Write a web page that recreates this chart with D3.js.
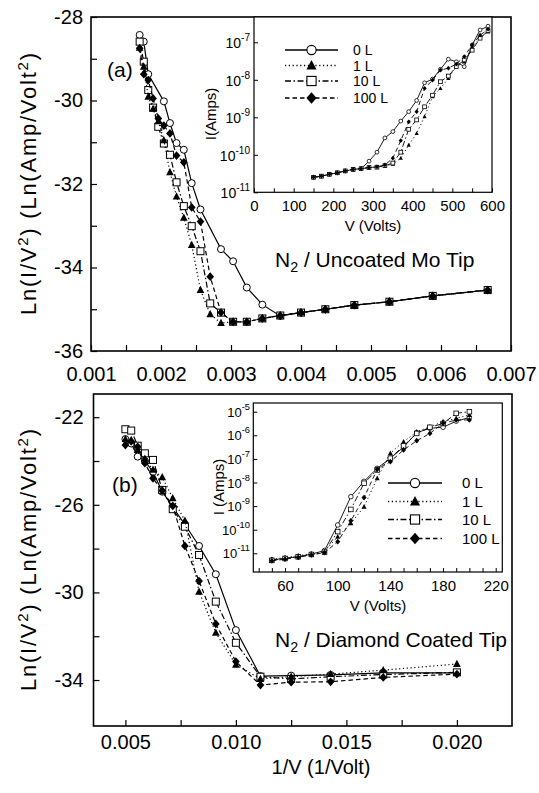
<!DOCTYPE html>
<html><head><meta charset="utf-8">
<script src="https://cdn.jsdelivr.net/npm/d3@7"></script>
<style>
body{margin:0;background:#fff;}
svg{display:block;font-family:"Liberation Sans",Arial,Helvetica,sans-serif;}
</style></head><body>
<svg id="c" width="539" height="793"></svg>
<script>
// ---------------- DATA ----------------
const seriesLabels = ["0 L", "1 L", "10 L", "100 L"];

// Panel (a) main: [1/V (1/Volt), Ln(I/V^2)]
const aMain0L = [[0.001695,-28.43],[0.001754,-28.59],[0.001818,-29.37],[0.002041,-30.02],[0.002128,-30.54],[0.002222,-31.02],[0.002326,-31.18],[0.002439,-31.98],[0.002564,-32.61],[0.002857,-33.56],[0.00303,-33.85],[0.003226,-34.48],[0.003448,-34.89],[0.003704,-35.16],[0.004,-35.08],[0.004348,-35.0],[0.004762,-34.9],[0.005263,-34.82],[0.005882,-34.68],[0.006667,-34.54]];
const aMain1L = [[0.001695,-28.74],[0.001754,-29.19],[0.001818,-29.91],[0.001887,-30.2],[0.001961,-30.5],[0.002041,-30.95],[0.002128,-31.72],[0.002222,-32.3],[0.002326,-32.81],[0.002439,-33.46],[0.002564,-34.54],[0.002703,-35.12],[0.002857,-35.33],[0.00303,-35.3],[0.003226,-35.3],[0.003448,-35.22],[0.003704,-35.15],[0.004,-35.08],[0.004348,-35.0],[0.004762,-34.9],[0.005263,-34.82],[0.005882,-34.68],[0.006667,-34.54]];
const aMain10L = [[0.001695,-28.59],[0.001754,-29.07],[0.001818,-29.75],[0.001887,-30.17],[0.001961,-30.63],[0.002041,-31.03],[0.002128,-31.3],[0.002222,-31.96],[0.002326,-32.53],[0.002439,-33.01],[0.002564,-33.61],[0.002703,-34.86],[0.002857,-35.08],[0.00303,-35.3],[0.003226,-35.3],[0.003448,-35.22],[0.003704,-35.15],[0.004,-35.08],[0.004348,-35.0],[0.004762,-34.9],[0.005263,-34.82],[0.005882,-34.68],[0.006667,-34.54]];
const aMain100L = [[0.001695,-28.75],[0.001754,-29.37],[0.001818,-29.51],[0.001887,-29.95],[0.001961,-30.43],[0.002041,-30.6],[0.002128,-30.79],[0.002222,-31.32],[0.002326,-31.48],[0.002439,-32.56],[0.002564,-32.9],[0.002703,-34.22],[0.002857,-35.08],[0.00303,-35.3],[0.003226,-35.3],[0.003448,-35.22],[0.003704,-35.15],[0.004,-35.08],[0.004348,-35.0],[0.004762,-34.9],[0.005263,-34.82],[0.005882,-34.68],[0.006667,-34.54]];

// Panel (a) inset: V (Volts) and log10 I (Amps)
const aInsetV = [150,170,190,210,230,250,270,290,310,330,350,370,390,410,430,450,470,490,510,530,550,570,590];
const aInset0L = [-10.6,-10.57,-10.52,-10.48,-10.43,-10.39,-10.37,-10.17,-9.93,-9.55,-9.38,-9.1,-8.85,-8.55,-8.08,-7.98,-7.72,-7.45,-7.52,-7.65,-7.07,-6.67,-6.57];
const aInset1L = [-10.6,-10.57,-10.52,-10.48,-10.43,-10.39,-10.37,-10.34,-10.33,-10.3,-10.25,-10.09,-9.74,-9.43,-8.98,-8.45,-8.23,-7.96,-7.65,-7.52,-7.12,-6.89,-6.72];
const aInset10L = [-10.6,-10.57,-10.52,-10.48,-10.43,-10.39,-10.37,-10.34,-10.33,-10.29,-10.22,-9.93,-9.32,-9.07,-8.72,-8.41,-8.05,-7.9,-7.65,-7.47,-7.21,-6.89,-6.69];
const aInset100L = [-10.6,-10.57,-10.52,-10.48,-10.43,-10.39,-10.37,-10.34,-10.32,-10.27,-10.09,-9.62,-9.12,-8.85,-8.23,-8.01,-7.74,-7.69,-7.58,-7.38,-7.07,-6.81,-6.65];

// Panel (b) main: [1/V (1/Volt), Ln(I/V^2)]
const bMain0L = [[0.005,-23.0],[0.005263,-23.2],[0.005556,-23.8],[0.005882,-24.0],[0.00625,-24.5],[0.006667,-25.4],[0.007143,-26.1],[0.007692,-26.9],[0.008333,-27.88],[0.009091,-29.17],[0.01,-31.72],[0.011111,-33.82],[0.0125,-33.8],[0.014286,-33.77],[0.016667,-33.67],[0.02,-33.67]];
const bMain1L = [[0.005,-23.0],[0.005263,-23.04],[0.005556,-23.5],[0.005882,-23.9],[0.00625,-24.4],[0.006667,-24.74],[0.007143,-25.7],[0.007692,-26.72],[0.008333,-29.97],[0.009091,-31.84],[0.01,-33.3],[0.011111,-33.95],[0.0125,-33.85],[0.014286,-33.73],[0.016667,-33.55],[0.02,-33.27]];
const bMain10L = [[0.005,-22.55],[0.005263,-22.61],[0.005556,-23.3],[0.005882,-23.65],[0.00625,-23.95],[0.006667,-25.32],[0.007143,-26.2],[0.007692,-27.0],[0.008333,-28.29],[0.009091,-30.42],[0.01,-32.3],[0.011111,-33.85],[0.0125,-33.95],[0.014286,-33.85],[0.016667,-33.75],[0.02,-33.65]];
const bMain100L = [[0.005,-23.27],[0.005263,-23.1],[0.005556,-23.35],[0.005882,-24.1],[0.00625,-24.79],[0.006667,-25.35],[0.007143,-26.05],[0.007692,-27.88],[0.008333,-29.48],[0.009091,-31.44],[0.01,-33.16],[0.011111,-34.23],[0.0125,-34.1],[0.014286,-34.08],[0.016667,-33.88],[0.02,-33.73]];

// Panel (b) inset: V (Volts) and log10 I (Amps)
const bInsetV = [50,60,70,80,90,100,110,120,130,140,150,160,170,180,190,200];
const bInset0L = [-11.28,-11.21,-11.14,-11.04,-10.88,-9.8,-8.6,-7.95,-7.4,-6.97,-6.5,-5.89,-5.7,-5.66,-5.4,-5.25];
const bInset1L = [-11.25,-11.18,-11.1,-11.02,-10.92,-10.3,-9.73,-9.03,-7.82,-6.76,-6.27,-5.85,-5.64,-5.42,-5.28,-5.14];
const bInset10L = [-11.3,-11.22,-11.15,-11.05,-10.95,-10.08,-9.14,-8.03,-7.47,-6.97,-6.45,-5.92,-5.66,-5.5,-5.07,-5.0];
const bInset100L = [-11.32,-11.25,-11.17,-11.07,-10.97,-10.51,-9.62,-8.64,-7.44,-7.12,-6.62,-6.23,-5.92,-5.49,-5.35,-5.35];

// Tick values / labels
const aXTicks = [0.001,0.0015,0.002,0.0025,0.003,0.0035,0.004,0.0045,0.005,0.0055,0.006,0.0065,0.007];
const aXLabels = [0.001,0.002,0.003,0.004,0.005,0.006,0.007];
const aYTicks = [-36,-35,-34,-33,-32,-31,-30,-29,-28];
const aYLabels = [-36,-34,-32,-30,-28];
const aInsetXTicks = [0,50,100,150,200,250,300,350,400,450,500,550,600];
const aInsetXLabels = [0,100,200,300,400,500,600];
const aInsetYExp = [-11,-10,-9,-8,-7];
const bXTicks = [0.005,0.0075,0.01,0.0125,0.015,0.0175,0.02];
const bXLabels = [0.005,0.010,0.015,0.020];
const bYTicks = [-34,-32,-30,-28,-26,-24,-22];
const bYLabels = [-34,-30,-26,-22];
const bInsetXTicks = [40,50,60,70,80,90,100,110,120,130,140,150,160,170,180,190,200,210,220];
const bInsetXLabels = [60,100,140,180,220];
const bInsetYExp = [-11,-10,-9,-8,-7,-6,-5];

// ---------------- DRAWING ----------------
const svg = d3.select("#c");
const styles = [
  {type:"circle", dash:null},
  {type:"triangle", dash:"1.2,2.6"},
  {type:"square", dash:"6,2.5,1.5,2.5"},
  {type:"diamond", dash:"4.5,3"}
];

function marker(g, type, x, y, s, sw) {
  if (type === "circle") g.append("circle").attr("cx",x).attr("cy",y).attr("r",s).attr("fill","#fff").attr("stroke","#000").attr("stroke-width",sw);
  else if (type === "square") g.append("rect").attr("x",x-s).attr("y",y-s).attr("width",2*s).attr("height",2*s).attr("fill","#fff").attr("stroke","#000").attr("stroke-width",sw);
  else if (type === "triangle") g.append("path").attr("d",`M${x},${y-s*1.2}L${x+s*1.1},${y+s*0.85}L${x-s*1.1},${y+s*0.85}Z`).attr("fill","#000");
  else if (type === "diamond") g.append("path").attr("d",`M${x},${y-s*1.25}L${x+s*1.1},${y}L${x},${y+s*1.25}L${x-s*1.1},${y}Z`).attr("fill","#000");
}

function drawSeries(g, pts, xs, ys, st, lw, ms, msw) {
  const line = d3.line().x(d => xs(d[0])).y(d => ys(d[1]));
  g.append("path").datum(pts).attr("d", line).attr("fill","none").attr("stroke","#000")
    .attr("stroke-width", lw).attr("stroke-dasharray", st.dash);
  pts.forEach(d => marker(g, st.type, xs(d[0]), ys(d[1]), ms, msw));
}

function yLabel(g, x, cy, len) {
  const t = g.append("text").attr("transform",`translate(${x},${cy}) rotate(-90)`)
    .attr("text-anchor","middle").attr("font-size",22).attr("textLength",len).attr("lengthAdjust","spacing");
  t.append("tspan").text("Ln(I/V");
  t.append("tspan").attr("dy",-8).attr("font-size",15).text("2");
  t.append("tspan").attr("dy",8).text(") (Ln(Amp/Volt");
  t.append("tspan").attr("dy",-8).attr("font-size",15).text("2");
  t.append("tspan").attr("dy",8).text(")");
}

function subText(g, x, y, pre, sub, post, fs) {
  const t = g.append("text").attr("x",x).attr("y",y).attr("font-size",fs);
  t.append("tspan").text(pre);
  t.append("tspan").attr("dy",5).attr("font-size",fs*0.68).text(sub);
  t.append("tspan").attr("dy",-5).text(post);
}

function cleanAxis(sel) { sel.select(".domain").remove(); sel.selectAll("line").attr("stroke","#000").attr("stroke-width",1.2); sel.selectAll("text").attr("fill","#000").attr("font-family","inherit"); }

function legend(g, x1, x2, xm, xt, ys, ms, fs) {
  styles.forEach((st, i) => {
    g.append("line").attr("x1",x1).attr("x2",x2).attr("y1",ys[i]).attr("y2",ys[i]).attr("stroke","#000").attr("stroke-width",1.3).attr("stroke-dasharray",st.dash);
    marker(g, st.type, xm, ys[i], ms, 1.1);
    g.append("text").attr("x",xt).attr("y",ys[i]).attr("dy","0.36em").attr("font-size",fs).text(seriesLabels[i]);
  });
}

function logInset(g, xs, ys, Vs, sets, lw, ms) {
  sets.forEach((vals, i) => {
    const pts = Vs.map((v, j) => [v, Math.pow(10, vals[j])]);
    drawSeries(g, pts, xs, ys, styles[i], lw, ms, 0.8);
  });
}

function insetYLabels(g, xs0, ys, exps, dyBase, fs) {
  exps.forEach(e => {
    const t = g.append("text").attr("x", xs0).attr("y", ys(Math.pow(10,e)) + dyBase).attr("text-anchor","end").attr("font-size",fs);
    t.append("tspan").text("10");
    t.append("tspan").attr("dy",-7).attr("font-size",fs*0.72).text(String(e));
  });
}

// ===== Panel (a) =====
const ax = d3.scaleLinear().domain([0.001,0.007]).range([91,511]);
const ay = d3.scaleLinear().domain([-36,-28]).range([351,17]);
const ga = svg.append("g");

ga.append("g").attr("transform","translate(0,351)")
  .call(d3.axisBottom(ax).tickValues(aXTicks).tickSize(-6).tickPadding(16)
    .tickFormat(d => aXLabels.some(v => Math.abs(v-d)<1e-9) ? d3.format(".3f")(d) : ""))
  .call(cleanAxis).call(s => s.selectAll("text").attr("font-size",20));
ga.append("g").attr("transform","translate(91,0)")
  .call(d3.axisLeft(ay).tickValues(aYTicks).tickSize(-6).tickPadding(8)
    .tickFormat(d => aYLabels.includes(d) ? String(d) : ""))
  .call(cleanAxis).call(s => s.selectAll("text").attr("font-size",20));
ga.append("rect").attr("x",91).attr("y",17).attr("width",420).attr("height",334).attr("fill","none").attr("stroke","#000").attr("stroke-width",1.6);

[aMain0L, aMain10L, aMain1L, aMain100L].forEach((pts, k) => {
  const idx = [0,2,1,3][k];
  drawSeries(ga, pts, ax, ay, styles[idx], 1.2, 3.5, 1);
});

ga.append("text").attr("x",107).attr("y",77).attr("font-size",21).text("(a)");
subText(ga, 275, 267, "N", "2", " / Uncoated Mo Tip", 21);
yLabel(ga, 36, 184, 262);

// Inset (a)
const aix = d3.scaleLinear().domain([0,600]).range([254,492]);
const aiy = d3.scaleLog().domain([1e-11, Math.pow(10,-6.325)]).range([192.3,17]);
const gai = svg.append("g");
gai.append("rect").attr("x",254).attr("y",17).attr("width",238).attr("height",175.3).attr("fill","#fff").attr("stroke","#000").attr("stroke-width",1.2);
gai.append("g").attr("transform","translate(0,192.3)")
  .call(d3.axisBottom(aix).tickValues(aInsetXTicks).tickSize(-4).tickPadding(8)
    .tickFormat(d => aInsetXLabels.includes(d) ? String(d) : ""))
  .call(cleanAxis).call(s => s.selectAll("text").attr("font-size",15)).call(s => s.selectAll("line").attr("stroke-width",1));
gai.append("g").attr("transform","translate(254,0)")
  .call(d3.axisLeft(aiy).tickValues(aInsetYExp.map(e => Math.pow(10,e))).tickSize(-4).tickFormat(""))
  .call(cleanAxis).call(s => s.selectAll("line").attr("stroke-width",1));
insetYLabels(gai, 250, aiy, aInsetYExp, 6, 14);
logInset(gai, aix, aiy, aInsetV, [aInset0L, aInset1L, aInset10L, aInset100L], 0.9, 1.9);
gai.append("text").attr("transform","translate(216,114) rotate(-90)").attr("text-anchor","middle").attr("font-size",15).text("I(Amps)");
gai.append("text").attr("x",373).attr("y",231).attr("text-anchor","middle").attr("font-size",15).text("V (Volts)");
legend(gai, 285, 338, 311.5, 353, [50,65.5,81,98], 4.6, 14);

// ===== Panel (b) =====
const bx = d3.scaleLinear().domain([0.003557,0.022493]).range([93.5,512]);
const by = d3.scaleLinear().domain([-36.1,-20.94]).range([726,394]);
const gb = svg.append("g");
gb.append("g").attr("transform","translate(0,726)")
  .call(d3.axisBottom(bx).tickValues(bXTicks).tickSize(-6).tickPadding(9)
    .tickFormat(d => bXLabels.some(v => Math.abs(v-d)<1e-9) ? d3.format(".3f")(d) : ""))
  .call(cleanAxis).call(s => s.selectAll("text").attr("font-size",20));
gb.append("g").attr("transform","translate(93.5,0)")
  .call(d3.axisLeft(by).tickValues(bYTicks).tickSize(-6).tickPadding(10)
    .tickFormat(d => bYLabels.includes(d) ? String(d) : ""))
  .call(cleanAxis).call(s => s.selectAll("text").attr("font-size",20));
gb.append("rect").attr("x",93.5).attr("y",394).attr("width",418.5).attr("height",332).attr("fill","none").attr("stroke","#000").attr("stroke-width",1.6);

[bMain0L, bMain10L, bMain1L, bMain100L].forEach((pts, k) => {
  const idx = [0,2,1,3][k];
  drawSeries(gb, pts, bx, by, styles[idx], 1.2, 3.5, 1);
});

gb.append("text").attr("x",112).attr("y",492).attr("font-size",21).text("(b)");
subText(gb, 275, 647, "N", "2", " / Diamond Coated Tip", 21);
yLabel(gb, 36, 560, 262);
gb.append("text").attr("x",321).attr("y",774).attr("text-anchor","middle").attr("font-size",20).text("1/V (1/Volt)");

// Inset (b)
const bix = d3.scaleLinear().domain([35.9,225]).range([253.3,502.3]);
const biy = d3.scaleLog().domain([Math.pow(10,-11.792), Math.pow(10,-4.631)]).range([572,403]);
const gbi = svg.append("g");
gbi.append("rect").attr("x",253.3).attr("y",403).attr("width",249).attr("height",169).attr("fill","#fff").attr("stroke","#000").attr("stroke-width",1.2);
gbi.append("g").attr("transform","translate(0,572)")
  .call(d3.axisBottom(bix).tickValues(bInsetXTicks).tickSize(-4).tickPadding(8)
    .tickFormat(d => bInsetXLabels.includes(d) ? String(d) : ""))
  .call(cleanAxis).call(s => s.selectAll("text").attr("font-size",15)).call(s => s.selectAll("line").attr("stroke-width",1));
gbi.append("g").attr("transform","translate(253.3,0)")
  .call(d3.axisLeft(biy).tickValues(bInsetYExp.map(e => Math.pow(10,e))).tickSize(-4).tickFormat(""))
  .call(cleanAxis).call(s => s.selectAll("line").attr("stroke-width",1));
insetYLabels(gbi, 250, biy, bInsetYExp, 5, 13);
logInset(gbi, bix, biy, bInsetV, [bInset0L, bInset1L, bInset10L, bInset100L], 0.9, 2.3);
gbi.append("text").attr("transform","translate(224,487) rotate(-90)").attr("text-anchor","middle").attr("font-size",15).text("I (Amps)");
gbi.append("text").attr("x",378).attr("y",611).attr("text-anchor","middle").attr("font-size",15).text("V (Volts)");
legend(gbi, 388, 442, 415, 462, [483,501.5,519.5,538.5], 4.6, 15);
</script>
</body></html>
